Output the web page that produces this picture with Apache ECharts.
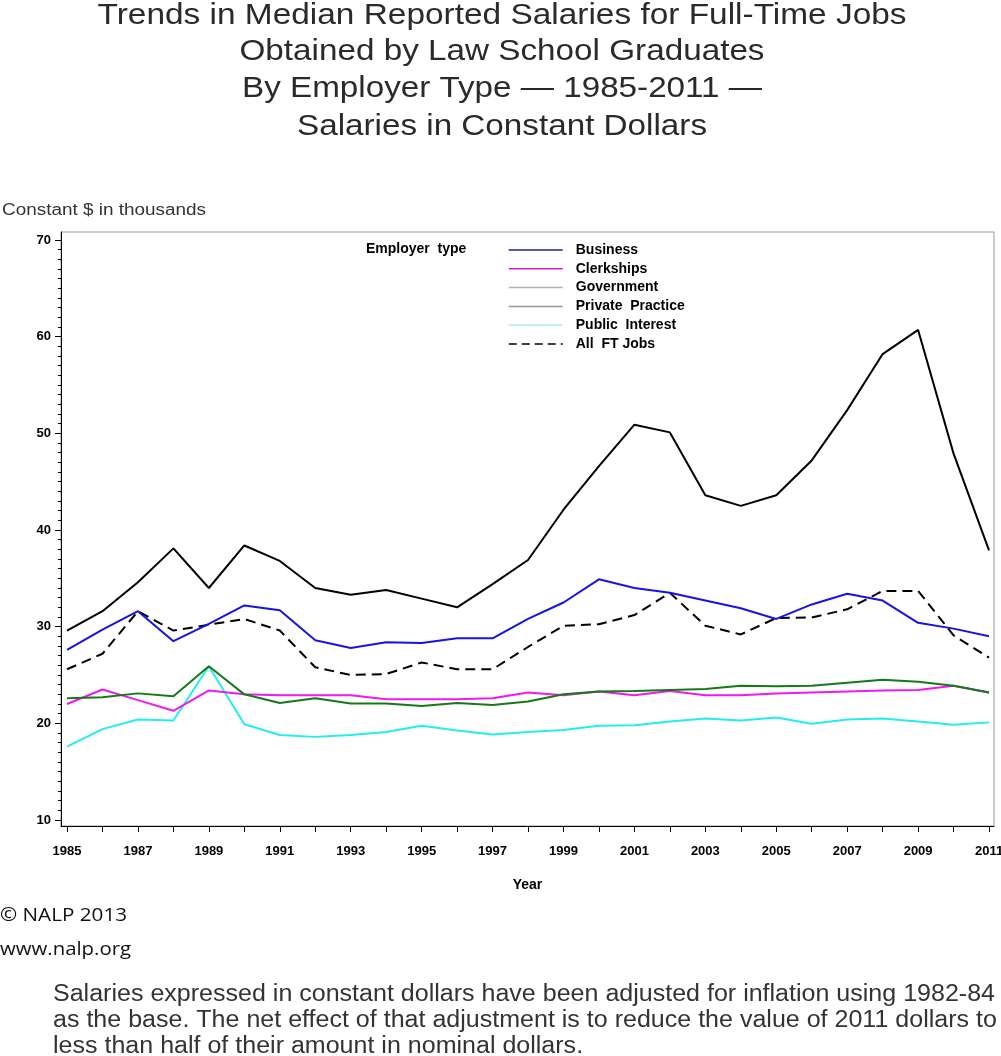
<!DOCTYPE html>
<html>
<head>
<meta charset="utf-8">
<script src="https://cdn.jsdelivr.net/npm/echarts@6/dist/echarts.min.js"></script>
<style>html,body{margin:0;padding:0;background:#fff;}#c{width:1001px;height:1056px;}</style>
</head>
<body>
<div id="c"></div>
<script>
var years = [1985,1986,1987,1988,1989,1990,1991,1992,1993,1994,1995,1996,1997,1998,1999,2000,2001,2002,2003,2004,2005,2006,2007,2008,2009,2010,2011];
var business = [27.6,29.7,31.6,28.5,30.3,32.2,31.7,28.6,27.8,28.4,28.3,28.8,28.8,30.8,32.5,34.9,34.0,33.5,32.7,31.9,30.8,32.3,33.4,32.7,30.4,29.8,29.0];
var clerkships = [22.0,23.5,22.4,21.3,23.4,23.0,22.9,22.9,22.9,22.5,22.5,22.5,22.6,23.2,22.9,23.3,22.9,23.35,22.9,22.9,23.1,23.2,23.3,23.4,23.45,23.9,23.2];
var government = [22.6,22.7,23.1,22.8,25.9,23.0,22.1,22.6,22.05,22.05,21.8,22.1,21.9,22.25,23.0,23.3,23.35,23.45,23.55,23.9,23.85,23.9,24.2,24.5,24.3,23.9,23.2];
var privatePractice = [29.6,31.6,34.6,38.1,34.0,38.4,36.8,34.0,33.3,33.8,32.9,32.0,34.4,36.9,42.1,46.6,50.9,50.1,43.6,42.5,43.6,47.2,52.4,58.2,60.7,47.9,37.9];
var publicInterest = [17.6,19.4,20.4,20.3,25.9,19.9,18.8,18.6,18.8,19.1,19.75,19.25,18.85,19.1,19.3,19.75,19.8,20.2,20.5,20.3,20.6,19.95,20.4,20.5,20.2,19.85,20.1];
var allFT = [25.6,27.2,31.6,29.6,30.2,30.8,29.6,25.8,25.0,25.1,26.3,25.6,25.6,27.9,30.1,30.25,31.2,33.5,30.1,29.2,30.9,30.95,31.8,33.7,33.7,29.1,26.8];
var xTickLabels = [1985,1987,1989,1991,1993,1995,1997,1999,2001,2003,2005,2007,2009,2011];
var yTickLabels = [10,20,30,40,50,60,70];
var yMinorTicks = [];
for (var v = 10; v <= 70; v++) yMinorTicks.push(v);

var titleLines = ['Trends in Median Reported Salaries for Full-Time Jobs', 'Obtained by Law School Graduates', 'By Employer Type \u2014 1985-2011 \u2014', 'Salaries in Constant Dollars'];
var footLines = ['Salaries expressed in constant dollars have been adjusted for inflation using 1982-84', 'as the base. The net effect of that adjustment is to reduce the value of 2011 dollars to', 'less than half of their amount in nominal dollars.'];

function pairs(arr){ return years.map(function(y,i){ return [y, arr[i]]; }); }

var narrow = "'Liberation Sans Narrow','Liberation Sans',Arial,sans-serif";
var sans = "'Liberation Sans',Arial,sans-serif";

var mctx = document.createElement('canvas').getContext('2d');
function textW(t, font){ mctx.font = font; return mctx.measureText(t).width; }
function fit(t, font, target){ return target / textW(t, font); }

var titleFont = '30px ' + sans;
var titleTargets = [809, 525, 520, 410];
var titleY = [16, 52, 89, 127];
var footFont = '23px ' + sans;
var footScale = fit(footLines[0], footFont, 942);
var nalpFont = '19px "Open Sans",sans-serif';

var graphics = [];
titleLines.forEach(function(t, i){
  graphics.push({type: 'text', x: 502, y: titleY[i], scaleX: fit(t, titleFont, titleTargets[i]),
    style: {text: t, font: titleFont, fill: '#2a2a2a', textAlign: 'center', textVerticalAlign: 'middle'}});
});
footLines.forEach(function(t, i){
  graphics.push({type: 'text', x: 53, y: 995 + i * 26, scaleX: footScale,
    style: {text: t, font: footFont, fill: '#333', textAlign: 'left', textVerticalAlign: 'middle'}});
});
graphics.push({type: 'text', x: 2, y: 211, scaleX: fit('Constant $ in thousands', '16px ' + sans, 204),
  style: {text: 'Constant $ in thousands', font: '16px ' + sans, fill: '#333', textAlign: 'left', textVerticalAlign: 'middle'}});
graphics.push({type: 'text', x: 0, y: 916, scaleX: fit('\u00a9 NALP 2013', nalpFont, 127),
  style: {text: '\u00a9 NALP 2013', font: nalpFont, fill: '#111', textAlign: 'left', textVerticalAlign: 'middle'}});
graphics.push({type: 'text', x: 0, y: 950, scaleX: fit('www.nalp.org', nalpFont, 131),
  style: {text: 'www.nalp.org', font: nalpFont, fill: '#111', textAlign: 'left', textVerticalAlign: 'middle'}});
graphics.push({type: 'text', x: 366, y: 249,
  style: {text: 'Employer  type', font: 'bold 14px ' + sans, fill: '#000', textAlign: 'left', textVerticalAlign: 'middle'}});

var chart = echarts.init(document.getElementById('c'), null, {renderer:'canvas'});
var option = {
  animation: false,
  backgroundColor: '#fff',
  grid: {left: 61, right: 7, top: 232, bottom: 230, show: true, borderColor: '#999', borderWidth: 1, containLabel: false, outerBoundsMode: 'none'},
  legend: {
    orient: 'vertical', left: 508, top: 243, padding: 0,
    itemWidth: 54, itemHeight: 14, itemGap: 4.8,
    itemStyle: {opacity: 0, borderWidth: 0},
    textStyle: {fontFamily: sans, fontSize: 14, fontWeight: 'bold', color: '#000', padding: [0,0,0,8]},
    data: [
      {name: 'Business', lineStyle: {color: '#1a1aa0', width: 1.5}},
      {name: 'Clerkships', lineStyle: {color: '#d020d0', width: 1.5}},
      {name: 'Government', lineStyle: {color: '#a8b8a8', width: 1.5}},
      {name: 'Private Practice', lineStyle: {color: '#999', width: 1.5}},
      {name: 'Public Interest', lineStyle: {color: '#a8f0f0', width: 1.5}},
      {name: 'All FT Jobs', lineStyle: {color: '#000', width: 1.3, type: [8,5]}}
    ],
    formatter: function(n){ return n.replace(' ', '  '); }
  },
  xAxis: {
    type: 'value', min: 1984.83, max: 2011.14,
    axisLine: {show: true, onZero: false, lineStyle: {color: '#000', width: 1}},
    axisTick: {show: true, length: 6, customValues: years, lineStyle: {color: '#000'}},
    axisLabel: {show: true, customValues: xTickLabels, margin: 19, formatter: function(v){ return String(v); },
      fontFamily: narrow, fontSize: 13, fontWeight: 'bold', color: '#000'},
    splitLine: {show: false},
    name: 'Year', nameLocation: 'middle', nameGap: 52,
    nameTextStyle: {fontFamily: narrow, fontSize: 14, fontWeight: 'bold', color: '#000'}
  },
  yAxis: [
    {
      type: 'value', min: 9.38, max: 70.83,
      axisLine: {show: true, onZero: false, lineStyle: {color: '#000', width: 1}},
      axisTick: {show: true, length: 6, customValues: yTickLabels, lineStyle: {color: '#000'}},
      axisLabel: {show: true, customValues: yTickLabels, margin: 10, formatter: function(v){ return String(v); },
        fontFamily: sans, fontSize: 13, fontWeight: 'bold', color: '#000'},
      splitLine: {show: false}
    },
    {
      type: 'value', min: 9.38, max: 70.83, position: 'left',
      axisLine: {show: false},
      axisTick: {show: true, length: 3, customValues: yMinorTicks, lineStyle: {color: '#000'}},
      axisLabel: {show: false},
      splitLine: {show: false}
    }
  ],
  series: [
    {name: 'Business', type: 'line', data: pairs(business), showSymbol: false, lineStyle: {color: '#1414e6', width: 2}, itemStyle: {color: '#1414e6'}, z: 4},
    {name: 'Clerkships', type: 'line', data: pairs(clerkships), showSymbol: false, lineStyle: {color: '#ee1aee', width: 2}, itemStyle: {color: '#ee1aee'}, z: 3},
    {name: 'Government', type: 'line', data: pairs(government), showSymbol: false, lineStyle: {color: '#157a15', width: 2}, itemStyle: {color: '#157a15'}, z: 4},
    {name: 'Private Practice', type: 'line', data: pairs(privatePractice), showSymbol: false, lineStyle: {color: '#000', width: 2}, itemStyle: {color: '#000'}, z: 3},
    {name: 'Public Interest', type: 'line', data: pairs(publicInterest), showSymbol: false, lineStyle: {color: '#22eeee', width: 2}, itemStyle: {color: '#22eeee'}, z: 2},
    {name: 'All FT Jobs', type: 'line', data: pairs(allFT), showSymbol: false, lineStyle: {color: '#000', width: 2, type: [10,6]}, itemStyle: {color: '#000'}, z: 3}
  ],
  graphic: graphics
};
chart.setOption(option);
</script>
</body>
</html>
